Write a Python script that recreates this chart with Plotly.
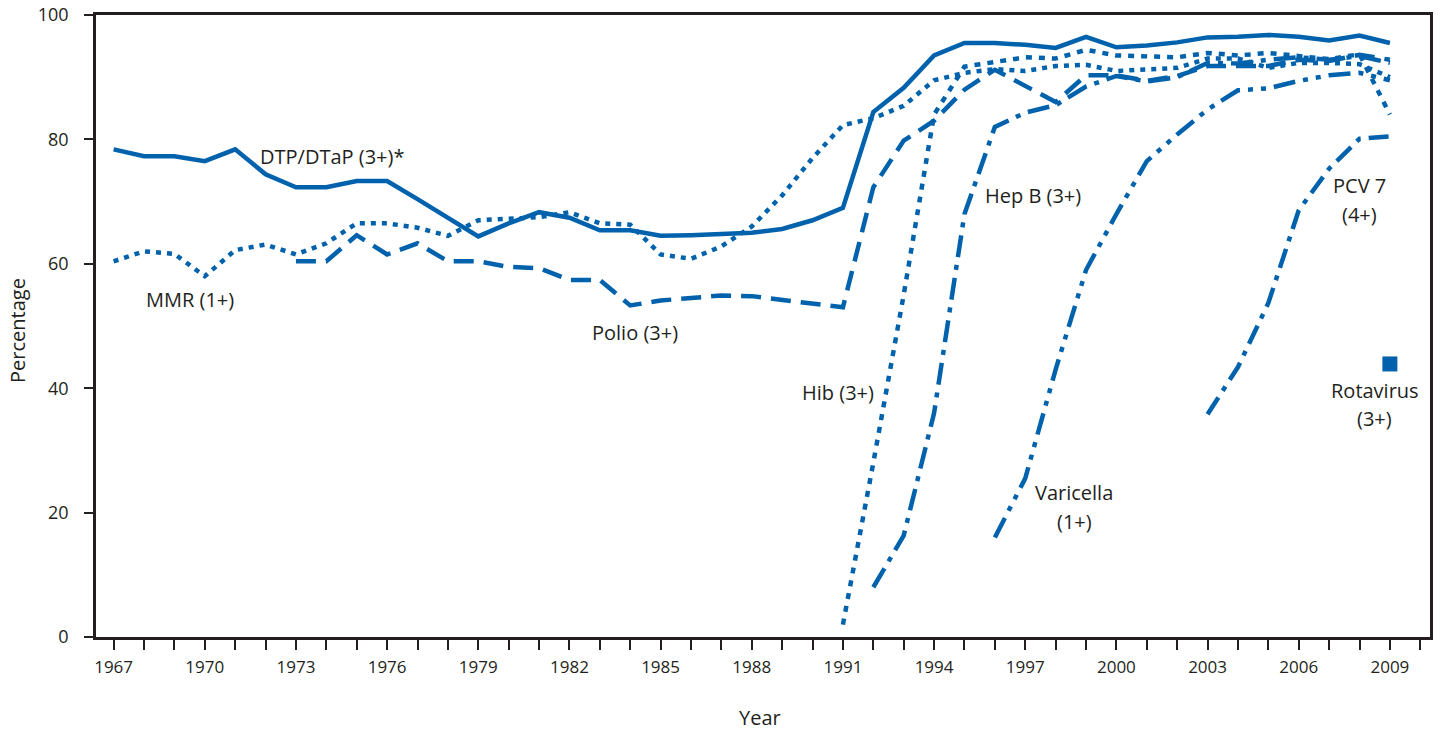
import plotly.graph_objects as go

years = list(range(1967, 2010))

dtp = [78.4, 77.3, 77.3, 76.5, 78.4, 74.4, 72.3, 72.3, 73.3, 73.3,
       70.4, 67.3, 64.4, 66.5, 68.3, 67.4, 65.4, 65.4, 64.5, 64.6,
       64.8, 65.0, 65.6, 67.0, 69.0, 84.4, 88.3, 93.5, 95.5, 95.5,
       95.2, 94.7, 96.5, 94.8, 95.1, 95.6, 96.4, 96.5, 96.8, 96.5,
       95.9, 96.7, 95.5]

mmr = [60.4, 62.0, 61.6, 58.0, 62.2, 63.1, 61.5, 63.3, 66.5, 66.5,
       65.8, 64.5, 67.0, 67.3, 67.5, 68.3, 66.5, 66.3, 61.5, 60.8,
       62.8, 66.0, 71.0, 77.0, 82.3, 83.4, 85.4, 89.5, 90.7, 91.3,
       91.0, 91.8, 92.0, 91.0, 91.2, 91.5, 93.0, 93.0, 91.5, 92.3,
       92.3, 92.1, 90.0]

polio = [None] * 6 + [
       60.4, 60.4, 64.6, 61.5, 63.3, 60.4, 60.4, 59.5, 59.3, 57.4,
       57.4, 53.3, 54.1, 54.5, 54.9, 54.8, 54.2, 53.7, 53.0, 72.3,
       79.8, 83.0, 88.0, 91.2, 88.5, 86.0, 90.3, 90.3, 89.4, 90.2,
       91.8, 91.8, 91.8, 92.8, 92.6, 93.6, 92.8]

hib = [None] * 24 + [
       2.0, 28.0, 55.0, 84.0, 91.7, 92.4, 93.2, 93.0, 94.4, 93.5,
       93.3, 93.2, 93.9, 93.5, 93.9, 93.4, 92.9, 93.7, 84.0]

hepb = [None] * 25 + [
       8.0, 16.3, 36.0, 68.0, 82.0, 84.3, 85.5, 88.5, 90.2, 89.3,
       90.0, 92.3, 92.2, 92.8, 93.2, 92.8, 93.4, 92.3]

varicella = [None] * 29 + [
       16.0, 25.5, 43.0, 59.0, 68.0, 76.5, 80.8, 84.8, 87.9, 88.2,
       89.4, 90.3, 90.7, 89.5]

pcv7 = [None] * 36 + [35.8, 43.4, 53.7, 68.6, 75.3, 80.1, 80.5]

rota_year = [2009]
rota = [43.9]

x_tick_years = list(range(1967, 2010, 3))
y_ticks = [0, 20, 40, 60, 80, 100]

BLUE = "#0062AC"
INK = "#231F20"
FONT = "Open Sans"
W = 4.5

fig = go.Figure()

def add_line(y, dash, name):
    fig.add_trace(go.Scatter(x=years, y=y, mode="lines", name=name,
                             line=dict(color=BLUE, width=W, dash=dash),
                             connectgaps=False, hoverinfo="x+y+name"))

add_line(polio, "20px,10px", "Polio (3+)")
add_line(hepb, "22px,8px,5px,8px", "Hep B (3+)")
add_line(varicella, "22px,8px,5px,8px,5px,8px", "Varicella (1+)")
add_line(pcv7, "20px,8px,5px,8px", "PCV 7 (4+)")
add_line(mmr, "5px,6px", "MMR (1+)")
add_line(hib, "6px,7px", "Hib (3+)")
add_line(dtp, "solid", "DTP/DTaP (3+)*")

fig.add_trace(go.Scatter(x=rota_year, y=rota, mode="markers", name="Rotavirus (3+)",
                         marker=dict(color=BLUE, size=15, symbol="square")))

labels = [
    ("DTP/DTaP (3+)*", 1974.19, 77.2),
    ("MMR (1+)", 1969.52, 54.2),
    ("Polio (3+)", 1984.16, 48.9),
    ("Hib (3+)", 1990.84, 39.3),
    ("Hep B (3+)", 1997.26, 71.0),
    ("Varicella", 1998.6, 23.2),
    ("(1+)", 1998.63, 18.5),
    ("PCV 7", 2008.0, 72.6),
    ("(4+)", 2008.0, 67.9),
    ("Rotavirus", 2008.5, 39.7),
    ("(3+)", 2008.5, 35.2),
]
for txt, xx, yy in labels:
    fig.add_annotation(x=xx, y=yy, text=txt, showarrow=False,
                       xanchor="center", yanchor="middle",
                       font=dict(family=FONT, size=20, color=INK))

fig.add_annotation(xref="paper", yref="paper", x=-0.0585, y=0.4936,
                   text="Percentage", textangle=-90, showarrow=False,
                   xanchor="center", yanchor="middle",
                   font=dict(family=FONT, size=20, color=INK))
fig.add_annotation(xref="paper", yref="paper", x=0.4978, y=-0.130,
                   text="Year", showarrow=False,
                   xanchor="center", yanchor="middle",
                   font=dict(family=FONT, size=20, color=INK))

fig.update_layout(
    width=1440, height=730,
    margin=dict(l=96, r=10, t=15, b=93, autoexpand=False),
    paper_bgcolor="white", plot_bgcolor="white",
    showlegend=False,
    font=dict(family=FONT, color=INK),
)
fig.update_xaxes(
    range=[1966.42, 2010.32], automargin=False,
    tickvals=x_tick_years, ticktext=[str(v) for v in x_tick_years],
    ticks="outside", ticklen=10, tickwidth=2, tickcolor=INK,
    minor=dict(dtick=1, tick0=1967, ticks="outside", ticklen=10, tickwidth=2, tickcolor=INK),
    showline=True, linecolor=INK, linewidth=2.5, mirror=True,
    showgrid=False, zeroline=False,
    tickfont=dict(family=FONT, size=17, color=INK),
    ticklabelstandoff=3,
)
fig.update_yaxes(
    range=[0, 100], automargin=False,
    tickvals=y_ticks,
    ticks="outside", ticklen=9, tickwidth=2, tickcolor=INK,
    showline=True, linecolor=INK, linewidth=2.5, mirror=True,
    showgrid=False, zeroline=False,
    tickfont=dict(family=FONT, size=18, color=INK),
    ticklabelstandoff=12,
)

fig.write_html(
    "out.html",
    config={"displayModeBar": False},
    post_script="document.body.style.margin='0';document.body.style.overflow='hidden';",
)
